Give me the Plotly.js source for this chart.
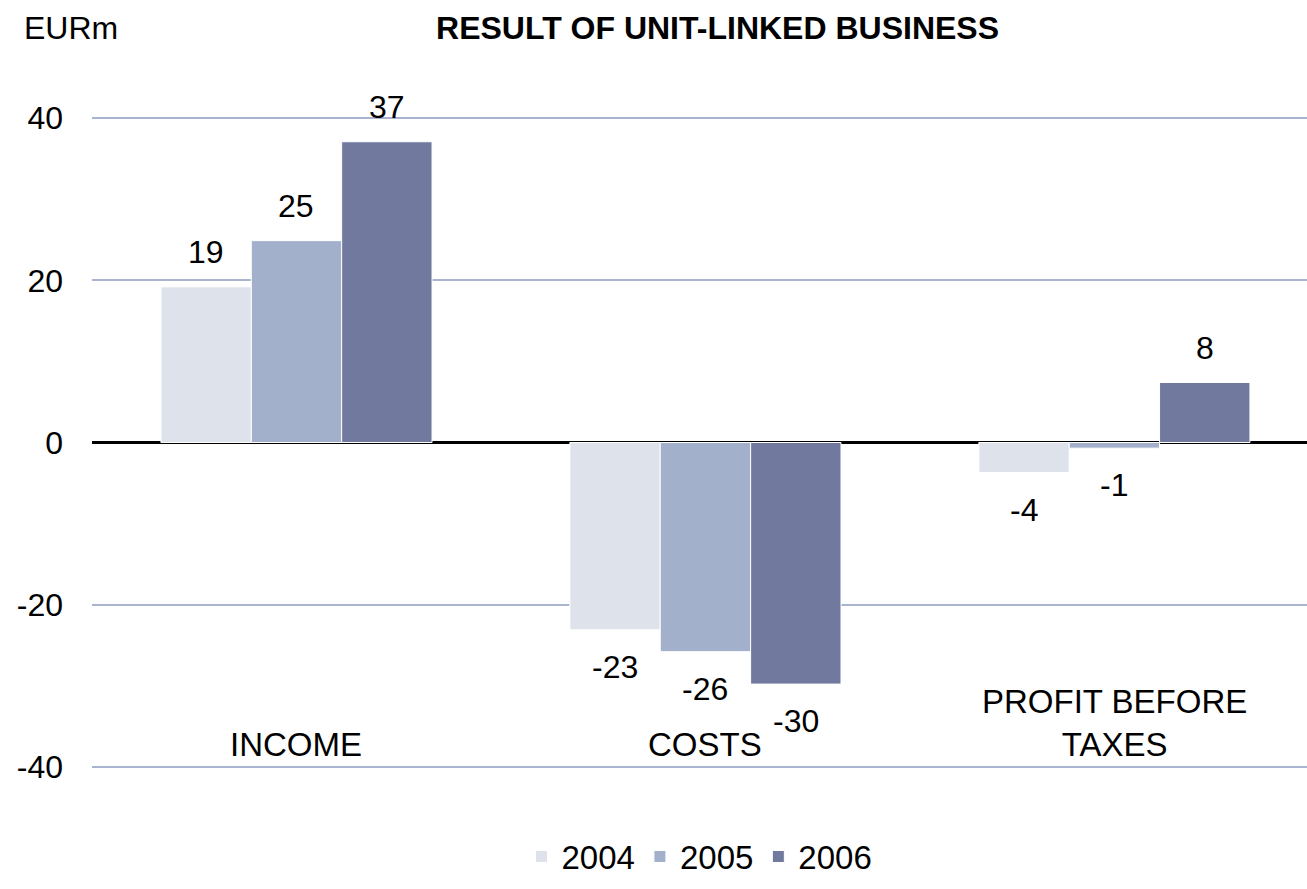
<!DOCTYPE html>
<html>
<head>
<meta charset="utf-8">
<script src="https://cdn.plot.ly/plotly-3.0.1.min.js"></script>
<style>html,body{margin:0;padding:0;background:#fff;}#chart{width:1307px;height:889px;}</style>
</head>
<body>
<div id="chart"></div>
<script>
var categories = ["INCOME", "COSTS", "PROFIT BEFORE<br>TAXES"];
var years = ["2004", "2005", "2006"];
var values2004 = [19.2, -23.1, -3.7];
var values2005 = [24.9, -25.8, -0.7];
var values2006 = [37.1, -29.8, 7.4];
var valueLabels2004 = ["19", "-23", "-4"];
var valueLabels2005 = ["25", "-26", "-1"];
var valueLabels2006 = ["37", "-30", "8"];
var yTicks = [-40, -20, 0, 20, 40];

var colors = ["#DEE2EA", "#A2B0CB", "#717A9E"];
var series = [values2004, values2005, values2006];
var labels = [valueLabels2004, valueLabels2005, valueLabels2006];
var FONT = "Liberation Sans, Arial, sans-serif";

var bargap = 0.337;
var barW = (1 - bargap) / 3;

var traces = series.map(function (vals, k) {
  return {
    type: "bar",
    name: years[k],
    x: [0, 1, 2],
    y: vals,
    marker: { color: colors[k], line: { color: "#ffffff", width: 1 } },
    hoverinfo: "skip"
  };
});

var annotations = [];
series.forEach(function (vals, k) {
  vals.forEach(function (v, i) {
    annotations.push({
      x: i + (k - 1) * barW,
      y: v,
      xref: "x", yref: "y",
      text: labels[k][i],
      showarrow: false,
      yanchor: "middle",
      yshift: v >= 0 ? 35 : -37,
      font: { family: FONT, size: 32, color: "#000" }
    });
  });
});
categories.forEach(function (c, i) {
  annotations.push({
    x: i, y: -40, xref: "x", yref: "y",
    text: c, showarrow: false,
    yanchor: "bottom", yshift: 2,
    font: { family: FONT, size: 33, color: "#000" }
  });
});
annotations.push({
  x: -0.0576, y: 1.137, xref: "paper", yref: "paper",
  xanchor: "left", yanchor: "middle",
  text: "EURm", showarrow: false,
  font: { family: FONT, size: 32, color: "#000" }
});

var layout = {
  width: 1307, height: 889,
  margin: { l: 92, r: 0, t: 117, b: 121, autoexpand: false },
  paper_bgcolor: "#ffffff",
  plot_bgcolor: "#ffffff",
  title: {
    text: "<b>RESULT OF UNIT-LINKED BUSINESS</b>",
    x: 0.549, xref: "container", xanchor: "center",
    y: 0.969, yref: "container", yanchor: "middle",
    font: { family: FONT, size: 32, color: "#000" }
  },
  barmode: "group",
  bargap: bargap,
  bargroupgap: 0,
  xaxis: {
    range: [-0.5, 2.471],
    showticklabels: false,
    showgrid: false,
    zeroline: false,
    showline: false,
    ticks: ""
  },
  yaxis: {
    range: [-40.15, 40.15],
    tickvals: yTicks,
    ticktext: yTicks.map(String),
    showgrid: true,
    gridcolor: "#A9B4CF",
    gridwidth: 2,
    zeroline: true,
    zerolinecolor: "#000000",
    zerolinewidth: 3,
    showline: false,
    ticks: "",
    ticklabelstandoff: 28,
    tickfont: { family: FONT, size: 32, color: "#000" }
  },
  showlegend: true,
  legend: {
    orientation: "h",
    x: 0.5, xanchor: "center",
    xref: "paper",
    y: 0.005, yref: "container", yanchor: "bottom",
    font: { family: FONT, size: 33, color: "#000" },
    itemclick: false
  },
  annotations: annotations
};

Plotly.newPlot("chart", traces, layout, { staticPlot: true });
</script>
</body>
</html>
